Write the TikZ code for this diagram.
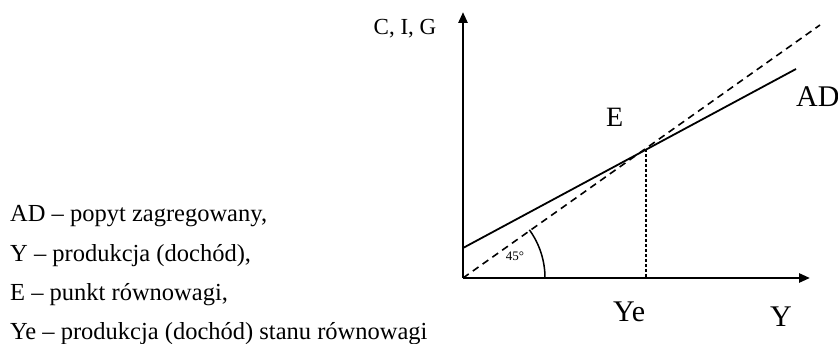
\documentclass[tikz,border=0pt]{standalone}
\usepackage{fontspec}
\setmainfont{Liberation Serif}
\usetikzlibrary{arrows.meta}

\tikzset{
  opis/.style={anchor=base west, inner sep=0pt, font=\fontsize{24.5}{28}\selectfont},
  etykieta/.style={anchor=base west, inner sep=0pt, font=\fontsize{30}{34}\selectfont}
}

\begin{document}
\begin{tikzpicture}[x=1pt, y=-1pt, >={Triangle[length=11pt, width=9pt]}]
    \useasboundingbox (0,0) rectangle (838,344);

    % Punkty
    \coordinate (O) at (463,278);
    \coordinate (Ytop) at (463,12);
    \coordinate (Yend) at (810,278);
    \coordinate (D45) at (820,25);
    \coordinate (ADa) at (463,248);
    \coordinate (ADb) at (796,69);
    \coordinate (E) at (646,149);
    \coordinate (Ye) at (646,278);
    \coordinate (K0) at (545,278);

    % Osie
    \draw[->, line width=2.6pt] (O) -- (Ytop);
    \draw[->, line width=2.6pt] (O) -- (Yend);

    % Linia 45 stopni
    \draw[line width=1.6pt, dash pattern=on 7pt off 5pt] (O) -- (D45);

    % Popyt zagregowany
    \draw[line width=1.8pt] (ADa) -- (ADb);

    % Produkcja rownowagi
    \draw[line width=1.2pt, dash pattern=on 3pt off 2pt] (E) -- (Ye);

    % Kat
    \draw[line width=1.5pt] (K0) arc[start angle=0, end angle=-36, radius=82];
    \node[anchor=base, inner sep=0pt, font=\fontsize{13}{14}\selectfont] (kat) at (515,261) {45°};

    % Etykiety
    \node[anchor=base, inner sep=0pt, font=\fontsize{23}{26}\selectfont] (cig) at (405,35) {C, I, G};
    \node[etykieta, font=\fontsize{28}{30}\selectfont] (Elab) at (606,127) {E};
    \node[etykieta, font=\fontsize{30}{32}\selectfont] (ADlab) at (796,107) {AD};
    \node[etykieta] (Yelab) at (613,322) {Ye};
    \node[etykieta] (Ylab) at (770,327) {Y};

    % Legenda
    \node[opis] (l1) at (10,222) {AD – popyt zagregowany,};
    \node[opis] (l2) at (10,262) {Y – produkcja (dochód),};
    \node[opis] (l3) at (10,301) {E – punkt równowagi,};
    \node[opis] (l4) at (10,340) {Ye – produkcja (dochód) stanu równowagi};
\end{tikzpicture}
\end{document}
